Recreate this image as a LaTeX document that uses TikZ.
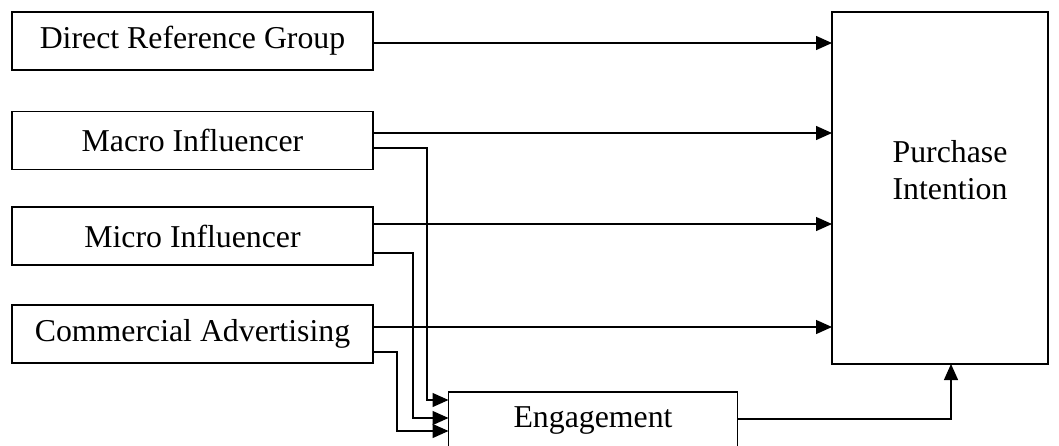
\documentclass[tikz,border=0pt]{standalone}
\usepackage{fontspec}
\setmainfont{Liberation Serif}
\usepackage{tikz}
\usetikzlibrary{calc,arrows.meta,positioning}
\tikzset{
  ar/.style={-{Triangle[length=8pt,width=7pt]},line width=0.65pt},
  box/.style={draw,line width=0.65pt,inner sep=0pt,outer sep=0pt,minimum height=29pt,align=center},
  side/.style={box,minimum width=180.5pt}
}
\begin{document}
\begin{tikzpicture}[x=0.5pt,y=-0.5pt,font=\fontsize{15.9}{18.5}\selectfont]
\useasboundingbox (0,0) rectangle (1059,445);
\clip (0,0) rectangle (1059,445);
\node[side] (drg) at (192.5,41) {Direct Reference Group};
\node[side] (macro) at (192.5,140.5) {Macro Influencer};
\node[side] (micro) at (192.5,236) {Micro Influencer};
\node[side] (comm) at (192.5,334) {Commercial Advertising};
\node[box,minimum width=144.5pt] (eng) at (593,421) {Engagement};
\node[box,minimum width=108pt,minimum height=176pt,
  label={[xshift=5pt,yshift=9pt,align=center]center:Purchase\\Intention}] (pi) at (940,188) {};
% start points
\coordinate (drgA) at ($(drg.east)+(0,2)$);
\coordinate (macroA) at ($(macro.east)+(0,-7.5)$);
\coordinate (macroB) at ($(macro.east)+(0,7.5)$);
\coordinate (microA) at ($(micro.east)+(0,-12)$);
\coordinate (microB) at ($(micro.east)+(0,17)$);
\coordinate (commA) at ($(comm.east)+(0,-7)$);
\coordinate (commB) at ($(comm.east)+(0,18)$);
\coordinate (engA) at ($(eng.east)+(0,-2)$);
\coordinate (piB) at ($(pi.south)+(11,0)$);
% direct effects
\draw[ar] (drgA) -- (drgA -| pi.west);
\draw[ar] (macroA) -- (macroA -| pi.west);
\draw[ar] (microA) -- (microA -| pi.west);
\draw[ar] (commA) -- (commA -| pi.west);
% via engagement
\draw[ar] (macroB) -- ++(54,0) |- ($(eng.west)+(0,-21)$);
\draw[ar] (microB) -- ++(40,0) |- ($(eng.west)+(0,-3)$);
\draw[ar] (commB) -- ++(24,0) |- ($(eng.west)+(0,10)$);
\draw[ar] (engA) -| (piB);
\end{tikzpicture}
\end{document}
